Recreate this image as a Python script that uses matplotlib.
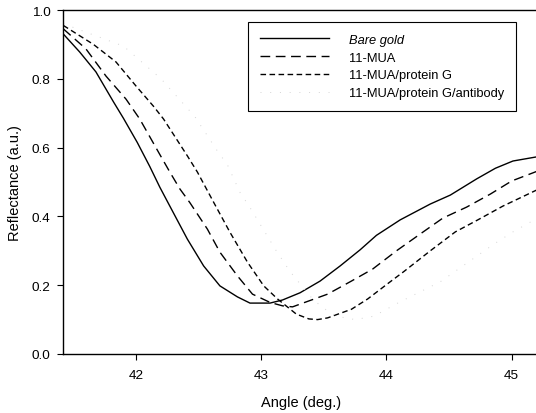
import matplotlib
matplotlib.use("Agg")
import matplotlib.pyplot as plt

plt.rcParams['font.family'] = ['Liberation Sans', 'DejaVu Sans']

# Data
gold_x = [41.42, 41.55, 41.68, 41.82, 41.90, 42.01, 42.11, 42.19, 42.27, 42.41,
          42.54, 42.67, 42.81, 42.91, 43.07, 43.17, 43.31, 43.47, 43.63, 43.79,
          43.92, 44.11, 44.35, 44.51, 44.72, 44.87, 45.01, 45.23]
gold_y = [0.930, 0.878, 0.820, 0.733, 0.685, 0.615, 0.545, 0.485, 0.430, 0.334,
          0.256, 0.198, 0.166, 0.148, 0.148, 0.157, 0.178, 0.212, 0.256, 0.303,
          0.345, 0.390, 0.436, 0.462, 0.509, 0.540, 0.561, 0.575]

mua_x = [41.42, 41.60, 41.76, 41.92, 42.03, 42.19, 42.27, 42.35, 42.43, 42.57,
         42.67, 42.81, 42.93, 43.07, 43.17, 43.25, 43.31, 43.53, 43.72, 43.89,
         44.08, 44.27, 44.45, 44.64, 44.83, 45.00, 45.23]
mua_y = [0.945, 0.887, 0.808, 0.741, 0.683, 0.580, 0.529, 0.480, 0.440, 0.363,
         0.296, 0.227, 0.174, 0.150, 0.140, 0.137, 0.145, 0.174, 0.212, 0.247,
         0.300, 0.349, 0.395, 0.427, 0.465, 0.503, 0.535]

protg_x = [41.42, 41.66, 41.84, 42.00, 42.14, 42.22, 42.41, 42.49, 42.62, 42.75,
           42.89, 43.02, 43.13, 43.28, 43.38, 43.45, 43.53, 43.72, 43.85, 44.03,
           44.14, 44.35, 44.55, 44.73, 44.93, 45.23]
protg_y = [0.955, 0.900, 0.849, 0.779, 0.720, 0.683, 0.576, 0.529, 0.441, 0.354,
           0.267, 0.198, 0.160, 0.116, 0.102, 0.100, 0.105, 0.130, 0.160, 0.210,
           0.240, 0.300, 0.355, 0.390, 0.430, 0.482]

ab_x = [41.42, 41.90, 42.20, 42.47, 42.65, 42.73, 42.83, 42.92, 43.12, 43.23,
        43.33, 43.41, 43.49, 43.60, 43.75, 43.90, 44.10, 44.43, 44.86, 45.01, 45.23]
ab_y = [0.960, 0.895, 0.800, 0.690, 0.590, 0.550, 0.470, 0.420, 0.300, 0.240,
        0.195, 0.160, 0.135, 0.110, 0.100, 0.110, 0.150, 0.210, 0.320, 0.355, 0.400]

labels = ['Bare gold', '11-MUA', '11-MUA/protein G', '11-MUA/protein G/antibody']
x_ticks = [42, 43, 44, 45]
y_ticks = [0.0, 0.2, 0.4, 0.6, 0.8, 1.0]

W, H = 536, 414
fig = plt.figure(figsize=(W / 100, H / 100), dpi=100)
left, right, top, bottom = 63, 540, 11, 355
ax = fig.add_axes([left / W, 1 - bottom / H, (right - left) / W, (bottom - top) / H])

ax.plot(gold_x, gold_y, color='black', lw=1.0, label=labels[0])
ax.plot(mua_x, mua_y, color='black', lw=1.0, linestyle=(0, (7, 4)), label=labels[1])
ax.plot(protg_x, protg_y, color='black', lw=1.0, linestyle=(0, (4, 2.5)), label=labels[2])
ax.plot(ab_x, ab_y, color='#d4d4d4', lw=0.7, linestyle=(0, (1, 9)), label=labels[3])

ax.set_xlim(41.417, 45.226)
ax.set_ylim(0.0, 1.0)
ax.set_xticks(x_ticks)
ax.set_yticks(y_ticks)
ax.set_yticklabels([f'{v:.1f}' for v in y_ticks])
ax.tick_params(direction='out', length=4, width=0.8, labelsize=9.7, pad=5)
ax.tick_params(axis='x', pad=7)
ax.spines['right'].set_visible(False)
for s in ['left', 'bottom', 'top']:
    ax.spines[s].set_linewidth(1.0)

ax.set_xlabel('Angle (deg.)', fontsize=10.5, labelpad=10)
ax.set_ylabel('Reflectance (a.u.)', fontsize=10.5, labelpad=7)

leg = ax.legend(loc='upper left', bbox_to_anchor=(248 / W, 1 - 23 / H),
                bbox_transform=fig.transFigure, fontsize=9.3, frameon=True,
                fancybox=False, edgecolor='black', framealpha=1,
                borderpad=0.9, borderaxespad=0, handlelength=5.4,
                handletextpad=1.55, labelspacing=0.45)
leg.get_frame().set_linewidth(0.8)
leg.get_texts()[0].set_style('italic')

fig.savefig('out.png', dpi=100)
